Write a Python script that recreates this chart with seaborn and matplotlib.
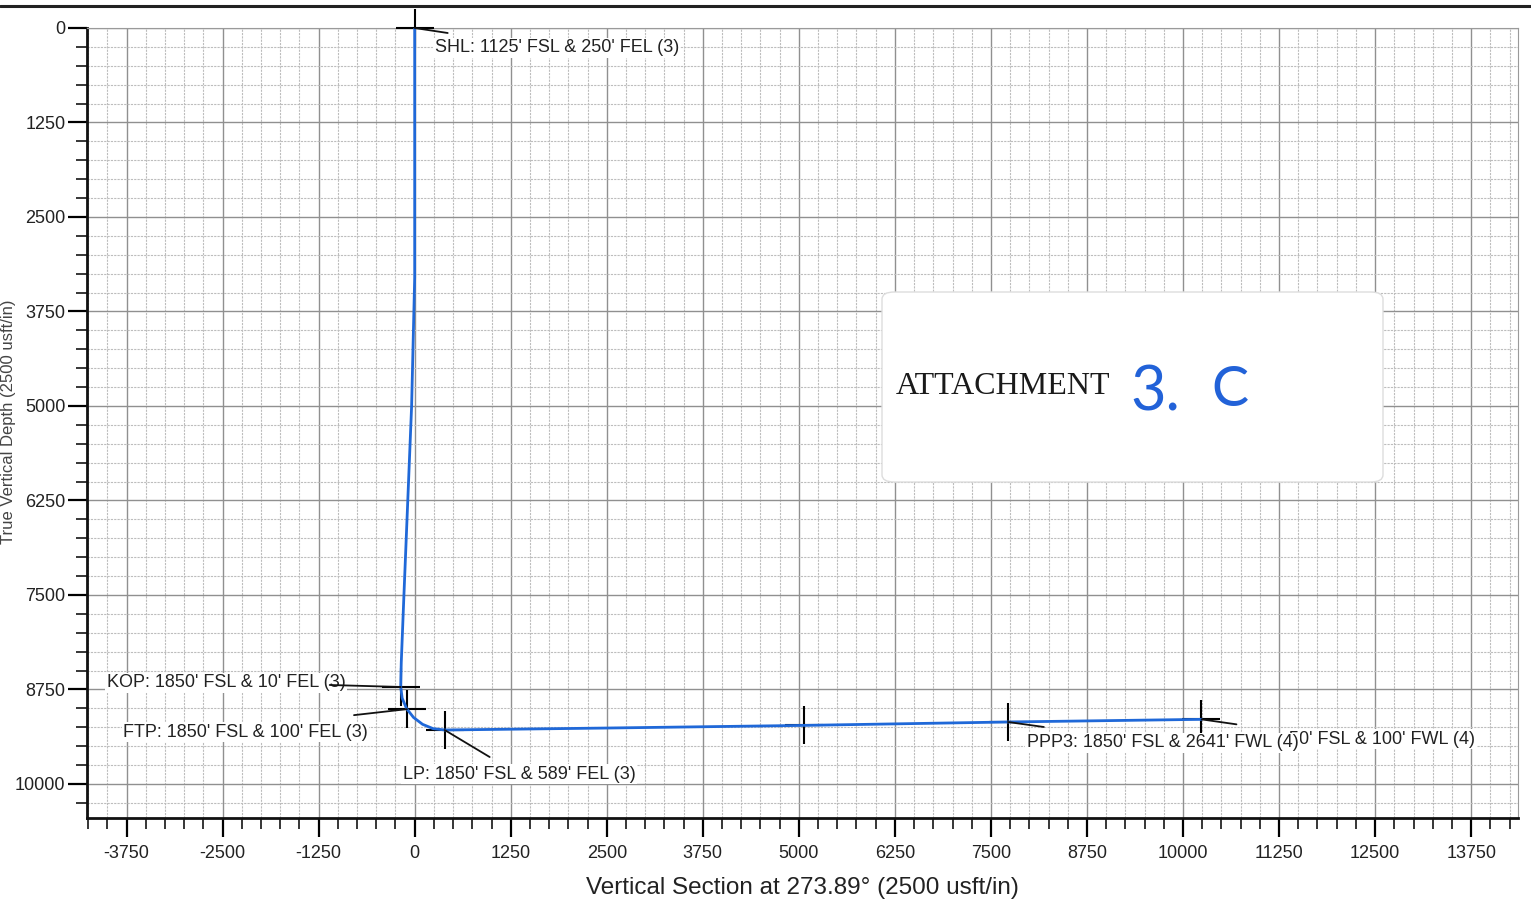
import matplotlib
matplotlib.use('Agg')
import matplotlib.pyplot as plt
import seaborn as sns
import pandas as pd
from matplotlib.patches import FancyBboxPatch
from matplotlib.lines import Line2D
from matplotlib.ticker import MultipleLocator

# well path: vertical section (usft) and TVD (usft)
vs = [0, 0, -40, -90, -140, -175, -182, -163, -106, -15, 103, 240, 390, 2500, 5070, 7720, 10240]
tvd = [0, 3300, 5000, 6250, 7500, 8400, 8717, 8865, 9002, 9120, 9211, 9268, 9286, 9260, 9225, 9180, 9145]

# survey markers
marker_names = ['SHL', 'KOP', 'FTP', 'LP', 'PPP2', 'PPP3', 'PBHL']
marker_vs = [0, -182, -100, 390, 5070, 7720, 10240]
marker_tvd = [0, 8717, 9010, 9286, 9225, 9180, 9145]
marker_labels = ["SHL: 1125' FSL & 250' FEL (3)",
                 "KOP: 1850' FSL & 10' FEL (3)",
                 "FTP: 1850' FSL & 100' FEL (3)",
                 "LP: 1850' FSL & 589' FEL (3)",
                 "",
                 "PPP3: 1850' FSL & 2641' FWL (4)",
                 "50' FSL & 100' FWL (4)"]

x_ticks = [-3750, -2500, -1250, 0, 1250, 2500, 3750, 5000, 6250, 7500, 8750, 10000, 11250, 12500, 13750]
y_ticks = [0, 1250, 2500, 3750, 5000, 6250, 7500, 8750, 10000]

# label / leader placement, pixels (right, down) from the marker
label_off = {'SHL': (20, 20), 'KOP': (-294, -4), 'FTP': (-284, 23), 'LP': (-42, 44),
             'PPP3': (19, 21), 'PBHL': (88, 20)}
leader_off = {'SHL': (33, 5), 'KOP': (-71, -2), 'FTP': (-53, 6), 'LP': (45, 27),
              'PPP3': (36, 5), 'PBHL': (35, 5)}

sns.set_theme(style='white')
plt.rcParams['font.family'] = ['Liberation Sans', 'DejaVu Sans']
plt.rcParams['axes.unicode_minus'] = False

W, H = 1531, 900
fig = plt.figure(figsize=(W / 100, H / 100), dpi=100)
ax = fig.add_axes([87 / W, 1 - 818 / H, (1518 - 87) / W, (818 - 28) / H])

path = pd.DataFrame({'vs': vs, 'tvd': tvd})
marks = pd.DataFrame({'name': marker_names, 'vs': marker_vs, 'tvd': marker_tvd, 'label': marker_labels})

sns.scatterplot(data=marks, x='vs', y='tvd', marker='+', s=720, color='black',
                linewidth=1.5, ax=ax, zorder=3, clip_on=False, legend=False)
sns.lineplot(data=path, x='vs', y='tvd', sort=False, estimator=None, color='#1f68d8',
             lw=2.0, ax=ax, zorder=4)

for _, r in marks.iterrows():
    if r['label'] == '':
        continue
    dx, dy = label_off[r['name']]
    z = 6 if r['name'] == 'PPP3' else 5
    ax.annotate(r['label'], xy=(r['vs'], r['tvd']), xytext=(dx * 0.72, -dy * 0.72),
                textcoords='offset points', ha='left', va='center', fontsize=13,
                color='#222222', zorder=z, annotation_clip=False,
                bbox=dict(facecolor='white', edgecolor='none', pad=1))
    lx, ly = leader_off[r['name']]
    ax.annotate('', xy=(r['vs'], r['tvd']), xytext=(lx * 0.72, -ly * 0.72),
                textcoords='offset points', zorder=7, annotation_clip=False,
                arrowprops=dict(arrowstyle='-', color='#111111', lw=1.3, shrinkA=0, shrinkB=0))

ax.set_xlim(-4265, 14360)
ax.set_ylim(10450, 0)
ax.set_xticks(x_ticks)
ax.set_yticks(y_ticks)
ax.xaxis.set_minor_locator(MultipleLocator(250))
ax.yaxis.set_minor_locator(MultipleLocator(250))
ax.grid(which='major', color='#909090', lw=1.0)
ax.grid(which='minor', color='#bdbdbd', lw=0.8, ls=(0, (2, 1)))
ax.set_axisbelow(True)

ax.tick_params(which='major', direction='out', length=13.5, width=1.6, color='black',
               labelsize=13, labelcolor='#222222')
ax.tick_params(axis='y', which='major', pad=2)
ax.tick_params(axis='x', which='major', pad=6)
ax.tick_params(which='minor', direction='out', length=8, width=1.1, color='black')
ax.tick_params(bottom=True, left=True, which='both')

for s in ['left', 'bottom']:
    ax.spines[s].set_color('#111111')
    ax.spines[s].set_linewidth(2.0)
for s in ['top', 'right']:
    ax.spines[s].set_color('#9a9a9a')
    ax.spines[s].set_linewidth(0.8)

ax.set_xlabel('Vertical Section at 273.89° (2500 usft/in)', fontsize=17.5, color='#222222', labelpad=11)
ax.set_ylabel('')
fig.text(1 / W, 0.531, 'True Vertical Depth (2500 usft/in)', rotation=90, ha='left',
         va='center', fontsize=12, color='#444444')

# page edge line from the scan
fig.add_artist(Line2D([0, 1], [1 - 6 / H, 1 - 6 / H], transform=fig.transFigure,
                      color='#222222', lw=2.2))

# attachment sticker
sticker = FancyBboxPatch((882 / W, 1 - 482 / H), 501 / W, 190 / H,
                         boxstyle='round,pad=0,rounding_size=0.008',
                         transform=fig.transFigure, facecolor='white',
                         edgecolor='#dddddd', lw=1.0, zorder=10)
fig.add_artist(sticker)
fig.text(896 / W, 1 - 386 / H, 'ATTACHMENT', family=['Liberation Serif', 'DejaVu Serif'],
         fontsize=23, color='#1a1a1a', ha='left', va='center', zorder=11)
fig.text(1130 / W, 1 - 393 / H, '3.', family=['Lato', 'DejaVu Sans'],
         fontsize=44, color='#2262d8', ha='left', va='center', zorder=11)
fig.text(1211 / W, 1 - 390 / H, 'C', family=['Lato', 'DejaVu Sans'],
         fontsize=40, color='#2262d8', ha='left', va='center', zorder=11)

fig.savefig('out.png', dpi=100)
